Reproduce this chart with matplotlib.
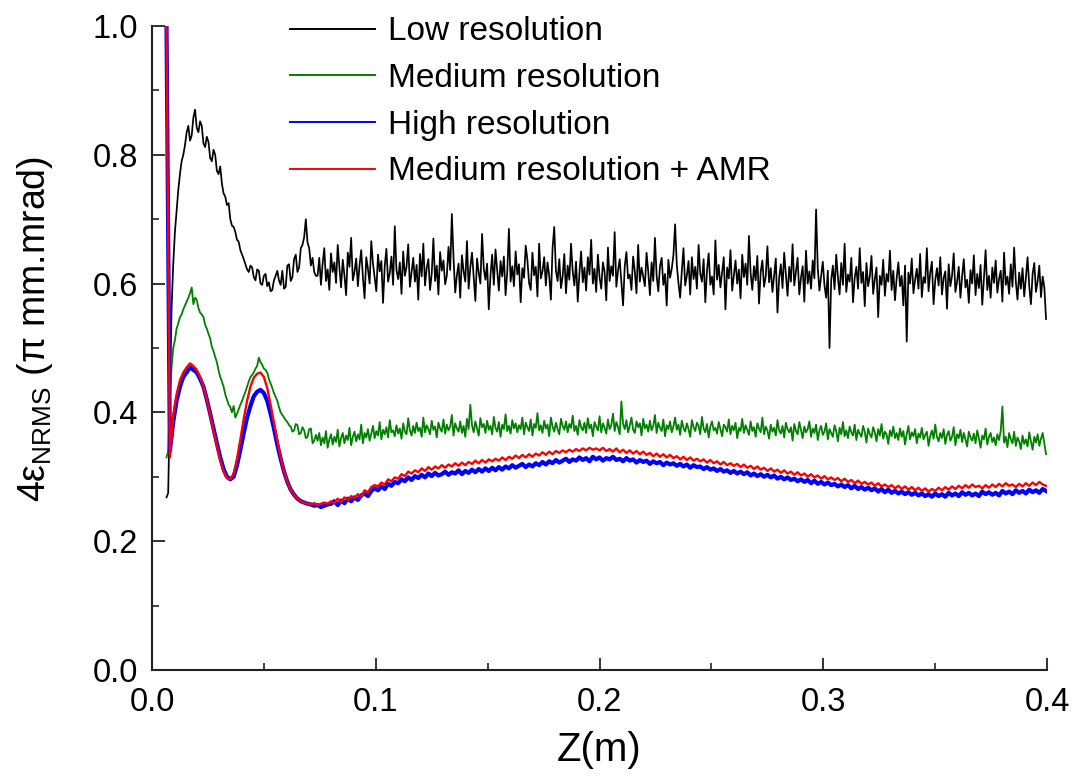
import matplotlib
matplotlib.use("Agg")
import matplotlib.pyplot as plt
import numpy as np
from matplotlib.ticker import MultipleLocator, FormatStrFormatter

plt.rcParams['font.family'] = ['Liberation Sans', 'DejaVu Sans']
plt.rcParams['mathtext.default'] = 'regular'

# sampling of the curves: first z (m) and step (m) for each group
z_start = 0.0065
z_step_fine = 0.00075   # low / medium resolution
z_step = 0.0015         # high resolution / medium + AMR

# emittance values, in units of 0.001 pi mm.mrad, one value per z step
low_res = [
    268, 275, 420, 560, 630, 680, 712, 745, 770, 790,
    800, 815, 835, 845, 822, 830, 858, 870, 842, 835,
    852, 845, 818, 812, 828, 820, 795, 790, 808, 800,
    775, 770, 782, 755, 740, 735, 722, 725, 700, 690,
    688, 680, 668, 665, 652, 645, 638, 630, 622, 618,
    628, 625, 610, 605, 622, 620, 600, 598, 612, 615,
    596, 602, 588, 590, 605, 612, 620, 605, 598, 620,
    592, 595, 628, 630, 604, 610, 638, 645, 618, 625,
    655, 660, 672, 700, 664, 655, 628, 640, 618, 612,
    612, 640, 598, 631, 655, 604, 622, 590, 647, 618, 633, 601, 660, 625, 594,
    637, 613, 582, 648, 626, 671, 605, 618, 639, 596, 628, 652, 610, 577, 641,
    623, 600, 666, 631, 609, 588, 645, 619, 635, 570, 627, 654, 603, 616, 642,
    598, 689, 621, 607, 633, 584, 650, 612, 626, 661, 595, 618, 640, 603, 629,
    575, 646, 611, 662, 597, 624, 638, 590, 615, 670, 604, 628, 583, 649, 620,
    636, 599, 612, 657, 621, 708, 640, 586, 613, 631, 578, 644, 619, 603, 666,
    592, 625, 648, 610, 573, 639, 617, 600, 677, 624, 606, 631, 560, 612, 645,
    598, 653, 621, 589, 635, 611, 642, 582, 618, 685, 603, 627, 596, 650, 614,
    630, 571, 624, 609, 659, 637, 601, 590, 648, 613, 626, 580, 662, 608, 619,
    641, 597, 633, 612, 575, 655, 688, 620, 604, 638, 593, 611, 646, 585, 628,
    606, 662, 619, 597, 634, 572, 616, 650, 602, 625, 589, 641, 614, 668, 600,
    623, 587, 645, 610, 592, 633, 618, 574, 656, 604, 627, 612, 680, 595, 620,
    638, 601, 566, 627, 649, 608, 614, 590, 642, 619, 585, 660, 603, 625, 611,
    596, 648, 619, 582, 633, 604, 671, 612, 588, 627, 640, 598, 615, 566, 637,
    609, 623, 644, 692, 630, 601, 578, 619, 655, 597, 612, 635, 583, 641, 607,
    626, 592, 660, 615, 603, 638, 571, 620, 647, 598, 611, 583, 667, 606, 629,
    594, 617, 641, 560, 625, 608, 652, 589, 613, 636, 600, 622, 577, 645, 610,
    631, 598, 674, 616, 590, 627, 605, 643, 569, 618, 636, 595, 611, 658, 602,
    624, 587, 612, 639, 555, 609, 630, 593, 648, 614, 581, 626, 603, 661, 597,
    618, 640, 583, 609, 627, 572, 651, 600, 619, 592, 636, 608, 715, 624, 589,
    612, 634, 597, 578, 620, 500, 605, 628, 591, 645, 610, 583, 632, 598, 662,
    587, 614, 603, 640, 571, 609, 626, 592, 655, 601, 618, 565, 632, 596, 611,
    643, 584, 607, 625, 548, 612, 598, 637, 581, 615, 603, 651, 590, 620, 574,
    608, 633, 596, 612, 566, 628, 510, 617, 600, 639, 585, 606, 623, 592, 646,
    579, 610, 601, 655, 588, 617, 634, 568, 605, 624, 597, 641, 583, 609, 619,
    561, 630, 596, 612, 647, 587, 603, 626, 578, 611, 638, 594, 606, 570, 621,
    600, 644, 582, 615, 593, 629, 567, 608, 652, 590, 612, 578, 625, 601, 636,
    586, 607, 620, 572, 648, 598, 611, 584, 630, 595, 656, 603, 575, 617, 592,
    624, 580, 609, 641, 596, 568, 615, 632, 587, 604, 628, 579, 611, 594, 545,
]

medium_res = [
    330, 340, 420, 470, 500, 512, 530, 538, 548, 552,
    560, 566, 572, 578, 585, 594, 568, 578, 575, 562,
    555, 552, 548, 536, 530, 522, 515, 502, 495, 486,
    478, 465, 455, 448, 440, 428, 420, 412, 408, 400,
    410, 392, 398, 405, 412, 418, 425, 432, 440, 448,
    455, 458, 462, 468, 472, 485, 478, 474, 468, 466,
    462, 452, 445, 438, 430, 424, 418, 408, 400, 396,
    392, 388, 385, 380, 378, 370, 372, 382, 380, 366,
    368, 377, 372, 360, 362, 374, 375, 352, 356, 365,
    356, 368, 349, 361, 352, 371, 345, 358, 366, 350, 362, 354, 373, 347, 360,
    368, 352, 364, 357, 376, 349, 362, 370, 355, 366, 358, 381, 352, 368, 361,
    374, 356, 367, 379, 360, 371, 364, 385, 358, 373, 366, 377, 361, 388, 369,
    372, 363, 380, 367, 375, 359, 383, 370, 366, 391, 372, 364, 379, 368, 384,
    371, 376, 362, 392, 369, 380, 374, 366, 387, 373, 378, 361, 384, 375, 370,
    389, 367, 381, 372, 378, 396, 364, 383, 375, 370, 386, 368, 379, 362, 390,
    374, 412, 380, 369, 386, 375, 364, 391, 377, 382, 368, 387, 373, 379, 366,
    393, 376, 370, 385, 362, 381, 374, 397, 371, 379, 367, 388, 375, 383, 369,
    380, 374, 392, 366, 384, 377, 371, 389, 364, 382, 376, 399, 372, 380, 368,
    387, 375, 381, 363, 392, 378, 370, 384, 374, 366, 390, 379, 373, 386, 369,
    382, 376, 395, 371, 379, 365, 388, 377, 372, 384, 368, 391, 375, 381, 363,
    385, 378, 372, 394, 369, 383, 376, 367, 389, 374, 380, 398, 371, 385, 377,
    366, 417, 382, 374, 388, 369, 379, 392, 373, 368, 386, 377, 383, 364, 390,
    375, 381, 370, 387, 372, 379, 396, 368, 384, 376, 371, 389, 363, 380, 374,
    386, 369, 378, 392, 373, 381, 365, 387, 376, 370, 383, 374, 362, 388, 377,
    371, 384, 379, 366, 393, 375, 369, 382, 361, 378, 386, 372, 376, 367, 385,
    374, 363, 381, 377, 370, 389, 366, 379, 372, 384, 360, 376, 371, 390, 368,
    380, 373, 365, 386, 371, 377, 362, 383, 375, 369, 392, 366, 378, 372, 359,
    381, 370, 376, 364, 388, 372, 367, 379, 361, 384, 374, 369, 377, 356, 382,
    371, 366, 385, 373, 360, 378, 369, 374, 386, 362, 375, 368, 381, 357, 372,
    379, 365, 370, 383, 358, 374, 368, 362, 380, 371, 355, 376, 366, 385, 363,
    372, 360, 378, 369, 364, 381, 357, 373, 367, 362, 379, 370, 353, 375, 366,
    361, 377, 369, 355, 374, 364, 382, 359, 370, 366, 351, 372, 363, 378, 360,
    368, 357, 375, 362, 371, 350, 366, 379, 358, 369, 363, 374, 352, 367, 361,
    376, 358, 365, 370, 348, 363, 372, 359, 381, 362, 355, 368, 360, 374, 351,
    365, 371, 356, 362, 377, 349, 366, 360, 373, 354, 368, 358, 347, 370, 361,
    356, 367, 352, 372, 360, 345, 364, 358, 375, 350, 362, 368, 354, 361, 349,
    366, 357, 371, 409, 353, 362, 346, 368, 358, 352, 370, 348, 361, 355, 343,
    364, 351, 358, 347, 369, 355, 342, 362, 353, 366, 348, 359, 368, 352, 335,
]

high_res = [
    1000, 340, 385, 418, 440, 455, 462, 470, 466, 462,
    452, 440, 420, 398, 375, 352, 330, 312, 300, 296,
    300, 318, 342, 368, 392, 410, 425, 432, 435, 430,
    418, 398, 375, 350, 328, 308, 292, 280, 272, 266,
    262, 260, 258, 257, 255, 256, 253, 255, 257,
    258, 262, 256, 263, 259, 266, 262, 268, 264, 271,
    274, 270, 278, 282, 279, 285, 281, 289, 286, 292,
    290, 296, 293, 299, 295, 301, 298, 303, 299, 305,
    301, 306, 302, 304, 308, 303, 307, 305, 310, 304,
    309, 306, 311, 307, 312, 308, 313, 309, 314, 310,
    315, 311, 316, 313, 318, 314, 317, 320, 315, 319,
    316, 321, 318, 323, 319, 324, 321, 326, 322, 325,
    328, 323, 327, 325, 330, 326, 329, 324, 331, 327,
    330, 325, 329, 327, 331, 326, 328, 324, 329, 325,
    327, 322, 326, 323, 325, 320, 324, 321, 323, 318,
    322, 319, 321, 317, 320, 316, 319, 314, 318, 315,
    316, 312, 315, 311, 313, 309, 312, 308, 310, 306,
    309, 305, 308, 304, 307, 302, 305, 301, 304, 300,
    303, 299, 302, 297, 300, 296, 299, 295, 297, 293,
    296, 292, 295, 290, 294, 289, 292, 288, 291, 287,
    289, 285, 288, 284, 287, 282, 286, 281, 284, 280,
    283, 279, 282, 277, 281, 276, 280, 275, 278, 274,
    277, 273, 276, 272, 275, 271, 274, 270, 273, 269,
    274, 270, 273, 269, 275, 271, 274, 270, 276, 272,
    275, 271, 274, 270, 277, 273, 276, 272, 275, 271,
    278, 274, 277, 273, 279, 275, 278, 274, 280, 276,
    279, 275, 281, 278,
]

medium_res_amr = [
    1000, 330, 395, 428, 450, 462, 470, 476, 472, 466,
    455, 440, 420, 396, 372, 348, 326, 308, 298, 296,
    305, 328, 358, 390, 418, 440, 454, 460, 462, 455,
    438, 412, 384, 356, 330, 308, 292, 280, 272, 266,
    262, 260, 258, 257, 259, 256, 258, 260, 258,
    262, 259, 266, 261, 268, 264, 270, 267, 273, 269,
    279, 276, 284, 287, 285, 291, 288, 296, 293, 299,
    297, 304, 301, 308, 305, 310, 307, 313, 309, 315,
    311, 316, 313, 318, 314, 319, 316, 321, 317, 322,
    318, 323, 320, 325, 321, 326, 322, 327, 324, 328,
    325, 330, 326, 331, 328, 333, 329, 334, 330, 335,
    331, 336, 333, 338, 334, 339, 335, 340, 337, 341,
    338, 342, 339, 343, 340, 344, 341, 345, 342, 344,
    341, 345, 340, 343, 339, 344, 338, 342, 337, 341,
    336, 340, 335, 339, 334, 337, 332, 336, 331, 335,
    330, 334, 329, 332, 327, 331, 326, 330, 325, 328,
    324, 327, 322, 326, 321, 324, 319, 323, 318, 321,
    317, 320, 315, 319, 314, 317, 312, 316, 311, 314,
    309, 313, 308, 311, 306, 310, 305, 308, 303, 307,
    302, 305, 300, 304, 299, 302, 297, 301, 296, 299,
    295, 298, 293, 297, 292, 295, 290, 294, 289, 292,
    288, 291, 286, 290, 285, 288, 284, 287, 282, 286,
    281, 285, 280, 284, 279, 283, 278, 282, 277, 281,
    278, 283, 279, 284, 280, 285, 281, 286, 282, 287,
    283, 288, 284, 286, 282, 287, 283, 288, 284, 289,
    285, 290, 286, 288, 284, 289, 285, 290, 286, 291,
    287, 292, 288, 286,
]

series = [
    (low_res, z_step_fine, 'Low resolution', 'black', 1.25),
    (medium_res, z_step_fine, 'Medium resolution', '#008000', 1.3),
    (high_res, z_step, 'High resolution', '#0000ff', 3.0),
    (medium_res_amr, z_step, 'Medium resolution + AMR', '#ff0000', 1.7),
]

fig = plt.figure(figsize=(10.74, 7.79), dpi=100)
ax = fig.add_axes([0.1415, 0.140, 0.8335, 0.8266])

handles = []
for vals, step, label, color, lw in series:
    y = np.array(vals) / 1000.0
    z = z_start + step * np.arange(len(y))
    h, = ax.plot(z, y, color=color, linewidth=lw, label=label)
    handles.append(h)

ax.set_xlim(0, 0.4)
ax.set_ylim(0, 1.0)
ax.xaxis.set_major_locator(MultipleLocator(0.1))
ax.xaxis.set_minor_locator(MultipleLocator(0.05))
ax.yaxis.set_major_locator(MultipleLocator(0.2))
ax.yaxis.set_minor_locator(MultipleLocator(0.1))
ax.xaxis.set_major_formatter(FormatStrFormatter('%.1f'))
ax.yaxis.set_major_formatter(FormatStrFormatter('%.1f'))

for s in ['top', 'right']:
    ax.spines[s].set_visible(False)
for s in ['left', 'bottom']:
    ax.spines[s].set_linewidth(1.5)
    ax.spines[s].set_color('#222222')

ax.tick_params(which='major', direction='in', length=9, width=1.3,
               labelsize=23.5, pad=10, color='#222222')
ax.tick_params(axis='x', which='major', pad=12)
ax.tick_params(which='minor', direction='in', length=5, width=1.2,
               color='#222222')

ax.set_xlabel('Z(m)', fontsize=29)
ax.xaxis.set_label_coords(0.5, -0.095)
ax.set_ylabel('4ε$_{NRMS}$ (π mm.mrad)', fontsize=27)
ax.yaxis.set_label_coords(-0.108, 0.53)

leg = ax.legend(handles=handles, loc='upper left',
                bbox_to_anchor=(0.270, 0.979), bbox_transform=fig.transFigure,
                frameon=False, fontsize=24, handlelength=2.55,
                handletextpad=0.4, labelspacing=0.47, borderpad=0,
                borderaxespad=0)
for line in leg.get_lines():
    line.set_linewidth(1.4)

fig.savefig('out.png', dpi=100)
